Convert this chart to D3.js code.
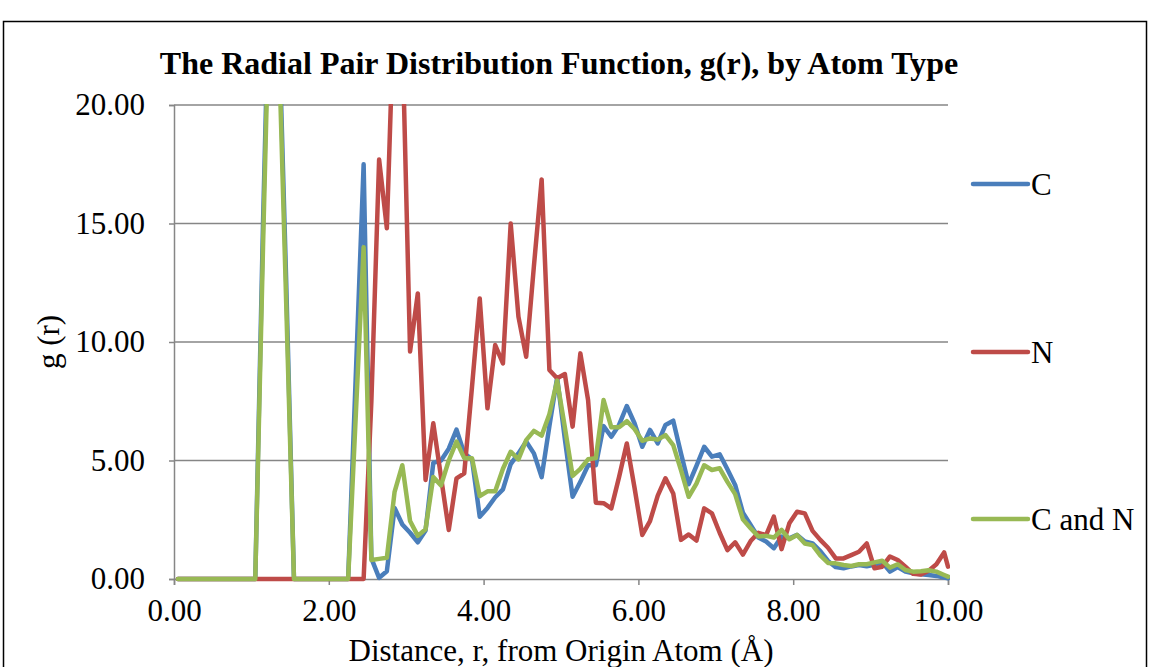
<!DOCTYPE html>
<html>
<head>
<meta charset="utf-8">
<script src="https://cdnjs.cloudflare.com/ajax/libs/d3/7.8.5/d3.min.js"></script>
<style>
  body { margin: 0; background: #fff; }
  svg { display: block; font-family: "Times New Roman", "Liberation Serif", serif; }
</style>
</head>
<body>
<svg id="chart" width="1149" height="667"></svg>
<script>
// bin centres, r in Angstrom
const rValues = [
  0.05, 0.15, 0.25, 0.35, 0.45, 0.55, 0.65, 0.75, 0.85, 0.95,
  1.05, 1.15, 1.25, 1.35, 1.45, 1.55, 1.65, 1.75, 1.85, 1.95,
  2.05, 2.15, 2.25, 2.35, 2.45, 2.55, 2.65, 2.75, 2.85, 2.95,
  3.05, 3.15, 3.25, 3.35, 3.45, 3.55, 3.65, 3.75, 3.85, 3.95,
  4.05, 4.15, 4.25, 4.35, 4.45, 4.55, 4.65, 4.75, 4.85, 4.95,
  5.05, 5.15, 5.25, 5.35, 5.45, 5.55, 5.65, 5.75, 5.85, 5.95,
  6.05, 6.15, 6.25, 6.35, 6.45, 6.55, 6.65, 6.75, 6.85, 6.95,
  7.05, 7.15, 7.25, 7.35, 7.45, 7.55, 7.65, 7.75, 7.85, 7.95,
  8.05, 8.15, 8.25, 8.35, 8.45, 8.55, 8.65, 8.75, 8.85, 8.95,
  9.05, 9.15, 9.25, 9.35, 9.45, 9.55, 9.65, 9.75, 9.85, 9.95,
  10.0
];

const gC = [
  0, 0, 0, 0, 0, 0, 0, 0, 0, 0,
  0, 15, 28, 24, 12.5, 0, 0, 0, 0, 0,
  0, 0, 0, 8.7, 17.5, 0.87, 0.05, 0.33, 3.0, 2.3,
  1.95, 1.55, 2.05, 4.9, 5.0, 5.5, 6.3, 5.3, 5.05, 2.63,
  3.0, 3.45, 3.78, 4.85, 5.3, 5.8, 5.3, 4.3, 6.45, 8.5,
  5.9, 3.47, 4.1, 4.8, 4.8, 6.45, 6.0, 6.5, 7.3, 6.57,
  5.58, 6.29, 5.72, 6.5, 6.68, 5.3, 4.0, 4.77, 5.58, 5.16,
  5.26, 4.63, 3.97, 2.8, 2.28, 1.75, 1.58, 1.3, 1.79, 1.72,
  1.86, 1.58, 1.5, 1.18, 0.76, 0.5, 0.45, 0.53, 0.59, 0.54,
  0.6, 0.7, 0.31, 0.5, 0.31, 0.24, 0.2, 0.17, 0.13, 0.06,
  0.03
];

const gN = [
  0, 0, 0, 0, 0, 0, 0, 0, 0, 0,
  0, 0, 0, 0, 0, 0, 0, 0, 0, 0,
  0, 0, 0, 0, 0, 7.5, 17.7, 14.8, 25, 23,
  9.6, 12.05, 4.18, 6.57, 4.3, 2.07, 4.25, 4.46, 8.1, 11.84,
  7.2, 9.87, 9.1, 15.0, 11.07, 9.38, 13.2, 16.86, 8.82, 8.47,
  8.65, 6.43, 9.52, 7.55, 3.22, 3.2, 2.98, 4.3, 5.72, 3.85,
  1.86, 2.44, 3.52, 4.25, 3.61, 1.65, 1.88, 1.62, 2.98, 2.77,
  1.95, 1.22, 1.55, 1.03, 1.6, 1.95, 1.85, 2.63, 1.26, 2.35,
  2.84, 2.77, 2.03, 1.65, 1.32, 0.87, 0.87, 1.01, 1.15, 1.5,
  0.45, 0.52, 0.95, 0.8, 0.52, 0.22, 0.19, 0.35, 0.62, 1.12,
  0.52
];

const gCN = [
  0, 0, 0, 0, 0, 0, 0, 0, 0, 0,
  0, 14, 27, 23, 11.6, 0, 0, 0, 0, 0,
  0, 0, 0, 7.0, 14.0, 0.8, 0.85, 0.9, 3.68, 4.8,
  2.45, 1.82, 2.1, 4.3, 3.95, 5.0, 5.8, 5.1, 5.1, 3.5,
  3.7, 3.7, 4.65, 5.37, 5.05, 5.86, 6.25, 6.05, 6.95, 8.37,
  6.4, 4.35, 4.65, 5.05, 5.1, 7.55, 6.4, 6.4, 6.66, 6.33,
  5.83, 5.93, 5.88, 6.07, 5.65, 4.6, 3.47, 4.02, 4.8, 4.6,
  4.67, 4.1, 3.58, 2.52, 2.14, 1.79, 1.82, 1.75, 2.07, 1.68,
  1.86, 1.5, 1.43, 1.0, 0.68, 0.66, 0.59, 0.55, 0.62, 0.62,
  0.7, 0.77, 0.48, 0.62, 0.38, 0.31, 0.33, 0.37, 0.31, 0.17,
  0.1
];

const seriesNames = ["C", "N", "C and N"];
const seriesColors = ["#4a7ebb", "#be4b48", "#98b954"];
const xTicks = [0, 2, 4, 6, 8, 10];
const yTicks = [0, 5, 10, 15, 20];

const series = [gC, gN, gCN].map((vals, i) => ({
  name: seriesNames[i],
  color: seriesColors[i],
  points: vals.map((g, j) => ({ r: rValues[j], g: g }))
}));

const svg = d3.select("#chart");

// outer chart frame
svg.append("rect")
  .attr("x", 3.5).attr("y", 21.5)
  .attr("width", 1143).attr("height", 700)
  .attr("fill", "none")
  .attr("stroke", "#000")
  .attr("stroke-width", 1.5);

const plot = { left: 174, right: 948, top: 105, bottom: 579 };

const x = d3.scaleLinear().domain([0, 10]).range([plot.left, plot.right]);
const y = d3.scaleLinear().domain([0, 20]).range([plot.bottom, plot.top]);

// gridlines
svg.append("g")
  .selectAll("line")
  .data(yTicks.filter(d => d > 0))
  .join("line")
  .attr("x1", plot.left).attr("x2", plot.right)
  .attr("y1", d => y(d)).attr("y2", d => y(d))
  .attr("stroke", "#868686")
  .attr("stroke-width", 1.5);

// y axis
const yAxis = svg.append("g")
  .attr("transform", `translate(${plot.left},0)`)
  .call(d3.axisLeft(y).tickValues(yTicks).tickFormat(d3.format(".2f")).tickSize(5).tickPadding(24));
yAxis.select(".domain").attr("stroke", "#868686").attr("stroke-width", 1.5);
yAxis.selectAll(".tick line").attr("stroke", "#868686").attr("stroke-width", 1.5);
yAxis.selectAll("text")
  .attr("font-size", "31px")
  .attr("font-family", "'Times New Roman', 'Liberation Serif', serif")
  .attr("fill", "#000");

// x axis
const xAxis = svg.append("g")
  .attr("transform", `translate(0,${plot.bottom})`)
  .call(d3.axisBottom(x).tickValues(xTicks).tickFormat(d3.format(".2f")).tickSize(6).tickPadding(14));
xAxis.select(".domain").attr("stroke", "#868686").attr("stroke-width", 1.5);
xAxis.selectAll(".tick line").attr("stroke", "#868686").attr("stroke-width", 1.5);
xAxis.selectAll("text")
  .attr("font-size", "31px")
  .attr("font-family", "'Times New Roman', 'Liberation Serif', serif")
  .attr("fill", "#000");

// clip lines to the plot area
svg.append("clipPath").attr("id", "plotClip")
  .append("rect")
  .attr("x", plot.left).attr("y", plot.top - 1)
  .attr("width", plot.right - plot.left + 2)
  .attr("height", plot.bottom - plot.top + 4);

const line = d3.line().x(d => x(d.r)).y(d => y(d.g));

svg.append("g")
  .attr("clip-path", "url(#plotClip)")
  .selectAll("path")
  .data(series)
  .join("path")
  .attr("d", d => line(d.points))
  .attr("fill", "none")
  .attr("stroke", d => d.color)
  .attr("stroke-width", 4.5)
  .attr("stroke-linejoin", "round")
  .attr("stroke-linecap", "round");

// title
svg.append("text")
  .attr("x", 559).attr("y", 74)
  .attr("text-anchor", "middle")
  .attr("font-size", "32px")
  .attr("font-weight", "bold")
  .text("The Radial Pair Distribution Function, g(r), by Atom Type");

// axis titles
svg.append("text")
  .attr("x", 561).attr("y", 661)
  .attr("text-anchor", "middle")
  .attr("font-size", "31px")
  .text("Distance, r, from Origin Atom (Å)");

svg.append("text")
  .attr("transform", "translate(59,342) rotate(-90)")
  .attr("text-anchor", "middle")
  .attr("font-size", "31px")
  .text("g (r)");

// legend
const legendY = [184, 352, 519];
const legend = svg.append("g")
  .selectAll("g")
  .data(series)
  .join("g")
  .attr("transform", (d, i) => `translate(973,${legendY[i]})`);

legend.append("line")
  .attr("x1", 0).attr("x2", 55)
  .attr("stroke", d => d.color)
  .attr("stroke-width", 4.5)
  .attr("stroke-linecap", "round");

legend.append("text")
  .attr("x", 58).attr("y", 11)
  .attr("font-size", "31px")
  .text(d => d.name);
</script>
</body>
</html>
